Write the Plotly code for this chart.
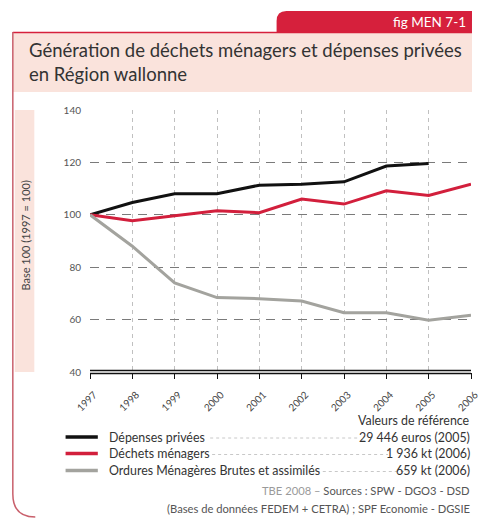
import plotly.graph_objects as go

years = [1997, 1998, 1999, 2000, 2001, 2002, 2003, 2004, 2005, 2006]
depenses = [100, 104.7, 108, 108, 111.3, 111.7, 112.6, 118.6, 119.6, None]
dechets = [100, 97.7, 99.6, 101.5, 100.8, 106, 104.1, 109.2, 107.4, 111.7]
ordures = [100, 88, 74, 68.4, 68, 67.1, 62.6, 62.6, 59.8, 61.7]

series_names = ["Dépenses privées", "Déchets ménagers", "Ordures Ménagères Brutes et assimilés"]
ref_values = ["29 446 euros (2005)", "1 936 kt (2006)", "659 kt (2006)"]
colors = ["#111111", "#d21f3c", "#a3a39e"]

W, H = 485, 519
L, R, T, B = 90, 5, 110, 147
PW, PH = W - L - R, H - T - B
FONT = "Lato"


def px(x):
    return (x - L) / PW


def py(y):
    return (H - B - y) / PH


fig = go.Figure()
for vals, name, col in zip([depenses, dechets, ordures], series_names, colors):
    fig.add_trace(go.Scatter(x=years, y=vals, mode="lines", name=name,
                             line=dict(color=col, width=3), showlegend=False,
                             connectgaps=False))

shapes = []
# title box
shapes.append(dict(type="rect", xref="paper", yref="paper", x0=px(11), x1=px(481), y0=py(92), y1=py(32),
                   fillcolor="#fae3dc", line=dict(width=0), layer="below"))
# red tab with rounded top-left corner
x0, x1, y0, y1, r = px(281), px(481), py(32), py(11), 10
tab_path = (f"M {x0} {y0} L {x0} {py(11 + r)} Q {x0} {y1} {px(281 + r)} {y1} "
            f"L {x1} {y1} L {x1} {y0} Z")
shapes.append(dict(type="path", xref="paper", yref="paper", path=tab_path,
                   fillcolor="#d6203c", line=dict(width=0), layer="below"))
# red top line of title box
shapes.append(dict(type="line", xref="paper", yref="paper", x0=px(11), x1=px(481), y0=py(32.5), y1=py(32.5),
                   line=dict(color="#d6203c", width=1.5)))
# left border with rounded bottom corner
border = (f"M {px(11)} {py(32)} L {px(11)} {py(494)} Q {px(11)} {py(517)} {px(34)} {py(517)}")
shapes.append(dict(type="path", xref="paper", yref="paper", path=border,
                   line=dict(color="#c9606c", width=1.5)))
# pink strip for y title
shapes.append(dict(type="rect", xref="paper", yref="paper", x0=px(13), x1=px(33), y0=py(372), y1=py(110),
                   fillcolor="#fae3dc", line=dict(width=0), layer="below"))
# double x-axis line
shapes.append(dict(type="line", xref="paper", yref="paper", x0=0, x1=1, y0=py(370.5), y1=py(370.5),
                   line=dict(color="#111111", width=1.6)))
shapes.append(dict(type="line", xref="paper", yref="paper", x0=0, x1=1, y0=py(373.5), y1=py(373.5),
                   line=dict(color="#111111", width=1.6)))

annotations = []
annotations.append(dict(text="fig MEN 7-1", xref="paper", yref="paper", x=px(477), y=py(22),
                        xanchor="right", yanchor="middle", showarrow=False,
                        font=dict(family=FONT, size=13.5, color="white")))
annotations.append(dict(text="Génération de déchets ménagers et dépenses privées<br>en Région wallonne",
                        xref="paper", yref="paper", x=px(25), y=py(37), xanchor="left", yanchor="top",
                        align="left", showarrow=False,
                        font=dict(family=FONT, size=18.5, color="#333333")))
annotations.append(dict(text="Base 100 (1997 = 100)", xref="paper", yref="paper", x=px(23), y=py(236),
                        textangle=-90, xanchor="center", yanchor="middle", showarrow=False,
                        font=dict(family=FONT, size=11, color="#444444")))

# legend block
LEG = 12.4
annotations.append(dict(text="Valeurs de référence", xref="paper", yref="paper", x=px(481), y=py(420),
                        xanchor="right", yanchor="middle", showarrow=False,
                        font=dict(family=FONT, size=LEG, color="#333333")))
row_y = [437, 453.5, 470.5]
leader = [(213, 364), (215, 395), (316, 415)]
for i in range(3):
    yy = row_y[i]
    shapes.append(dict(type="line", xref="paper", yref="paper", x0=px(65), x1=px(98), y0=py(yy), y1=py(yy),
                       line=dict(color=colors[i], width=3.5)))
    shapes.append(dict(type="line", xref="paper", yref="paper", x0=px(leader[i][0]), x1=px(leader[i][1]),
                       y0=py(yy + 1), y1=py(yy + 1), line=dict(color="#c8c8c8", width=1, dash="dot")))
    annotations.append(dict(text=series_names[i], xref="paper", yref="paper", x=px(107), y=py(yy),
                            xanchor="left", yanchor="middle", showarrow=False,
                            font=dict(family=FONT, size=LEG, color="#333333")))
    annotations.append(dict(text=ref_values[i], xref="paper", yref="paper", x=px(481), y=py(yy),
                            xanchor="right", yanchor="middle", showarrow=False,
                            font=dict(family=FONT, size=LEG, color="#333333")))

annotations.append(dict(text="<span style='color:#9a9a9a'>TBE 2008 – </span>Sources : SPW - DGO3 - DSD",
                        xref="paper", yref="paper", x=px(481), y=py(490), xanchor="right", yanchor="middle",
                        showarrow=False, font=dict(family=FONT, size=11.2, color="#555555")))
annotations.append(dict(text="(Bases de données FEDEM + CETRA) ; SPF Economie - DGSIE",
                        xref="paper", yref="paper", x=px(481), y=py(508), xanchor="right", yanchor="middle",
                        showarrow=False, font=dict(family=FONT, size=11.2, color="#555555")))

fig.update_layout(
    width=W, height=H,
    margin=dict(l=L, r=R, t=T, b=B),
    paper_bgcolor="white", plot_bgcolor="white",
    font=dict(family=FONT, color="#555555"),
    shapes=shapes, annotations=annotations,
    xaxis=dict(range=[1997, 2006], tickmode="array", tickvals=years, ticktext=[str(y) for y in years],
               tickangle=-45, tickfont=dict(size=10, color="#444444"),
               ticks="outside", ticklen=6, tickcolor="#111111", tickwidth=1.2,
               ticklabelstandoff=6, ticklabelshift=4, ticklabeloverflow="allow",
               showgrid=True, gridcolor="#c0c0c0", gridwidth=1, griddash="4px,4px",
               showline=False, zeroline=False, fixedrange=True),
    yaxis=dict(range=[40, 140], tickmode="array", tickvals=[40, 60, 80, 100, 120, 140],
               tickfont=dict(size=10, color="#555555"),
               showgrid=True, gridcolor="#7a7a7a", gridwidth=1.2, griddash="9px,7px",
               showline=False, zeroline=False, ticks="", ticklabelstandoff=8, fixedrange=True),
)

fig.write_html("out.html", config={"displayModeBar": False},
               post_script="document.body.style.margin='0';document.body.style.overflow='hidden';")
